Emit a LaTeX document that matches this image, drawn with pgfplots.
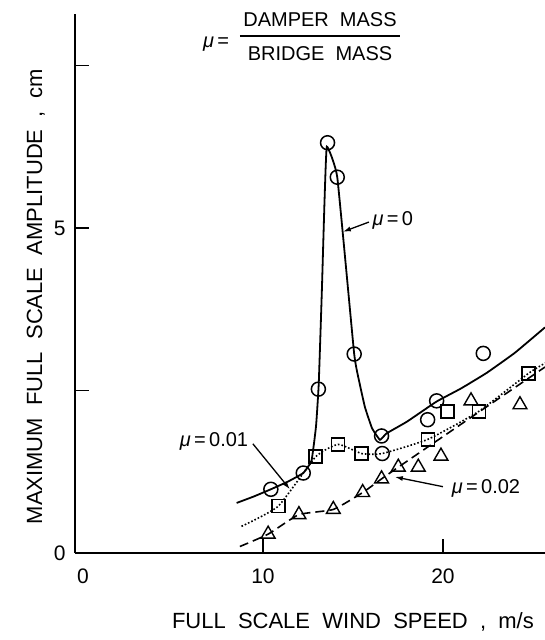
\documentclass[border=0pt]{standalone}
\usepackage{fontspec}
\setmainfont[WordSpace=2]{Liberation Sans}
\usepackage{pgfplots}
\pgfplotsset{compat=1.18}
\usetikzlibrary{arrows.meta}

\pgfplotstableread{
x y
10.44 0.98
12.24 1.23
13.08 2.52
13.59 6.31
14.13 5.78
15.07 3.06
16.59 1.80
16.63 1.53
19.15 2.05
19.65 2.34
22.24 3.07
}\muzero

\pgfplotstableread{
x y
10.85 0.72
12.93 1.48
14.18 1.67
15.48 1.53
19.18 1.75
20.24 2.18
22.00 2.18
24.74 2.76
}\muone

\pgfplotstableread{
x y
10.29 0.29
12.00 0.59
13.91 0.67
15.54 0.93
16.59 1.14
17.52 1.32
18.63 1.32
19.89 1.49
21.56 2.34
24.28 2.28
}\mutwo

\tikzset{lab/.style={font=\fontsize{20}{24}\selectfont, inner sep=1pt}}

\begin{document}
\begin{tikzpicture}
\useasboundingbox (0,0) rectangle (545pt,640pt);
\begin{axis}[
    at={(75pt,87pt)}, anchor=south west,
    scale only axis,
    width=470pt, height=539pt,
    xmin=-0.44, xmax=25.67,
    ymin=0, ymax=8.29,
    axis lines=left,
    axis line style={-, line width=1.6pt},
    tick align=inside,
    major tick length=14pt,
    tick style={line width=1.4pt, black},
    xtick={10,20},
    extra x ticks={0},
    extra x tick style={major tick length=0pt},
    ytick={0,2.5,5,7.5},
    yticklabels={0,,5,},
    /pgf/number format/assume math mode=true,
    tick label style={font=\fontsize{21}{24}\selectfont},
    xticklabel style={yshift=-12pt},
    yticklabel style={xshift=-6pt},
    clip=false,
  ]

  % mu = 0 curve
  \addplot[line width=1.8pt, smooth, tension=0.2] coordinates {
    (8.54,0.77) (9.5,0.87) (10.44,0.98) (11.4,1.10) (12.24,1.23)
    (12.7,1.42) (12.95,1.95) (13.1,2.6) (13.27,4.0) (13.42,5.4)
    (13.55,6.25) (14.13,5.78) (15.07,3.06) (15.37,2.61) (15.67,2.24)
    (16.06,1.92) (16.5,1.74) (16.87,1.84) (18.0,2.02) (19.65,2.33)
    (21.0,2.53) (22.43,2.77) (24.0,3.08) (25.67,3.47)
  };
  % mu = 0.01 curve
  \addplot[line width=1.6pt, dotted, smooth, tension=0.3] coordinates {
    (8.81,0.41) (10.85,0.72) (12.93,1.48) (14.18,1.67) (15.48,1.53)
    (16.63,1.53) (19.18,1.75) (22.0,2.18) (24.74,2.76) (25.67,2.92)
  };
  % mu = 0.02 curve
  \addplot[line width=1.6pt, dash pattern=on 9pt off 5pt, smooth, tension=0.3] coordinates {
    (8.72,0.10) (10.29,0.29) (12.0,0.59) (13.91,0.67) (15.54,0.93)
    (16.59,1.14) (17.52,1.32) (22.06,2.18) (25.67,2.86)
  };

  \addplot[only marks, mark=o, mark size=7pt,
    mark options={solid, line width=1.5pt, fill=white}] table {\muzero};
  \addplot[only marks, mark=square, mark size=6.5pt,
    mark options={solid, line width=1.6pt, fill=white}] table {\muone};
  \addplot[only marks, mark=triangle, mark size=8pt,
    mark options={solid, line width=1.4pt, fill=white}] table {\mutwo};

  % labels with arrows
  \node[lab] at (axis cs:17.22,5.12) {\textit{μ}\,=\,0};
  \draw[line width=1.3pt, -{Latex[length=8pt,width=5pt]}]
    (axis cs:15.89,5.09) -- (axis cs:14.44,4.94);
  \node[lab] at (axis cs:7.28,1.72) {\textit{μ}\,=\,0.01};
  \draw[line width=1.3pt, -{Latex[length=8pt,width=5pt]}]
    (axis cs:9.44,1.68) -- (axis cs:11.5,0.98);
  \node[lab] at (axis cs:22.39,1.0) {\textit{μ}\,=\,0.02};
  \draw[line width=1.3pt, -{Latex[length=8pt,width=5pt]}]
    (axis cs:20.0,1.02) -- (axis cs:17.33,1.17);

  % mass ratio definition
  \node[lab] at (axis cs:7.4,7.82) {\textit{μ}\,=};
  \node[lab] at (axis cs:13.17,8.2) {DAMPER MASS};
  \node[lab] at (axis cs:13.17,7.68) {BRIDGE MASS};
  \draw[line width=1.5pt] (axis cs:8.72,7.95) -- (axis cs:17.61,7.95);

  % axis titles
  \node[font=\fontsize{22}{26}\selectfont] at (axis cs:15.0,-1.06)
    {FULL SCALE WIND SPEED , m/s};
  \node[font=\fontsize{22}{26}\selectfont, rotate=90] at (axis cs:-2.61,3.94)
    {MAXIMUM FULL SCALE AMPLITUDE , cm};
\end{axis}
\end{tikzpicture}
\end{document}
